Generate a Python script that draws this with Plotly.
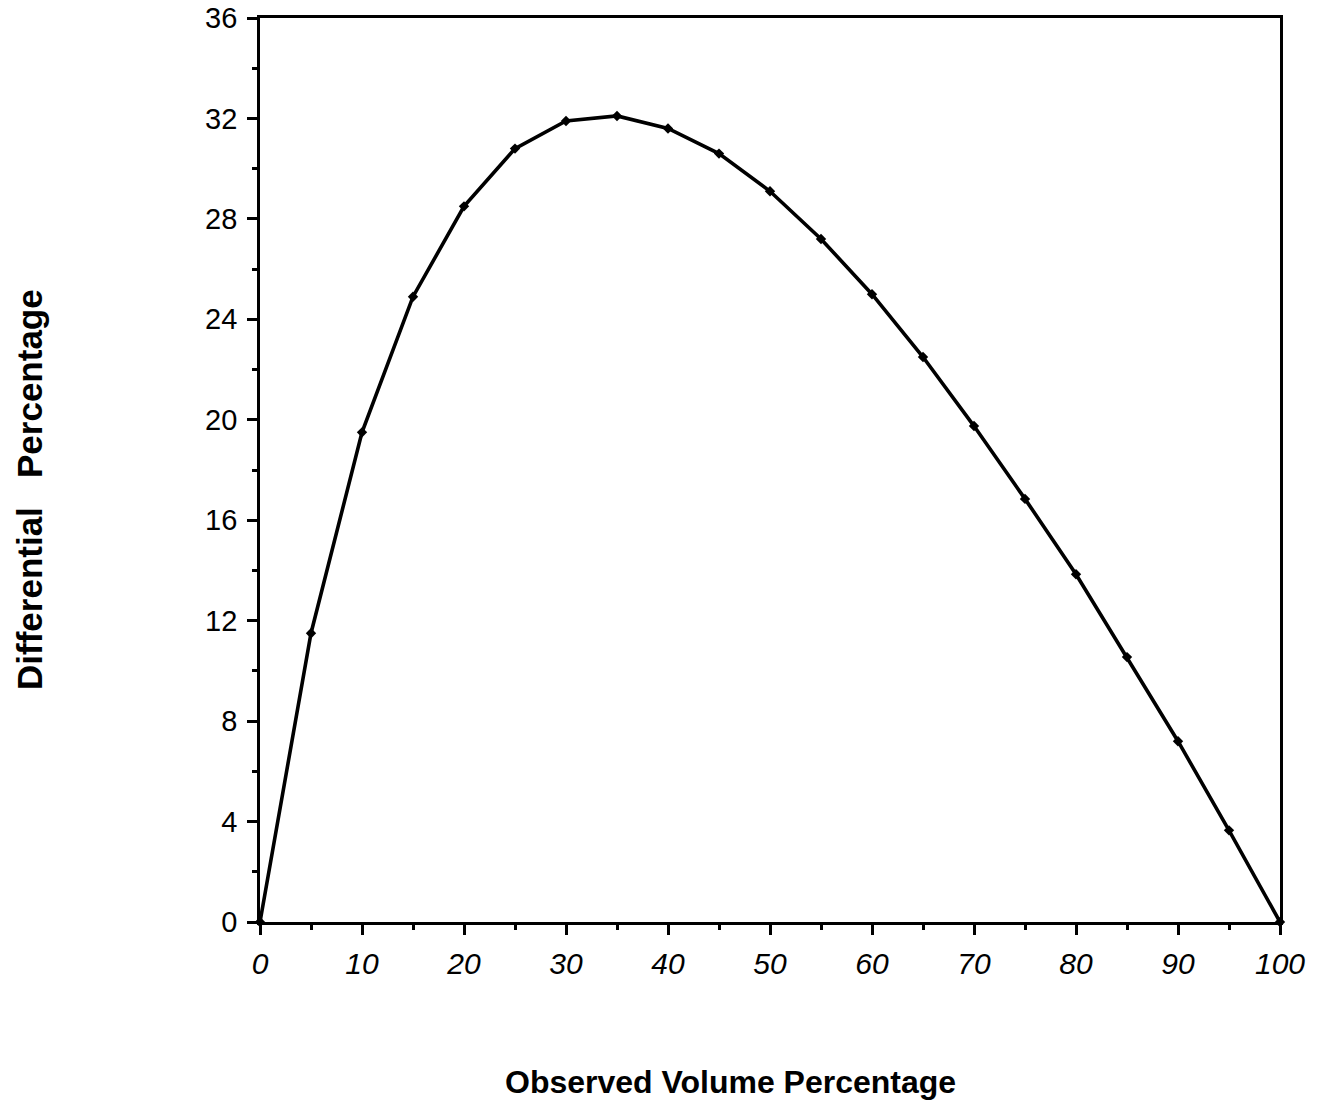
import plotly.graph_objects as go

x_vals = [0, 5, 10, 15, 20, 25, 30, 35, 40, 45, 50, 55, 60, 65, 70, 75, 80, 85, 90, 95, 100]
y_vals = [0, 11.5, 19.5, 24.9, 28.5, 30.8, 31.9, 32.1, 31.6, 30.6, 29.1, 27.2, 25.0, 22.5, 19.75, 16.85, 13.85, 10.55, 7.2, 3.65, 0]

x_ticks = [0, 10, 20, 30, 40, 50, 60, 70, 80, 90, 100]
y_ticks = [0, 4, 8, 12, 16, 20, 24, 28, 32, 36]

x_title = "Observed Volume Percentage"
y_title = "Differential\u00a0\u00a0\u00a0Percentage"

FONT = "Liberation Sans, Arial, Helvetica"

fig = go.Figure()
fig.add_trace(go.Scatter(
    x=x_vals, y=y_vals, mode="lines+markers",
    line=dict(color="black", width=3.6),
    marker=dict(symbol="diamond", size=8, color="black"),
    showlegend=False, cliponaxis=False,
))

axis_common = dict(
    showgrid=False, zeroline=False, showline=True, linecolor="black", linewidth=2.8,
    mirror=True, ticks="outside", ticklen=10, tickwidth=2.8, tickcolor="black",
    automargin=False, ticklabeloverflow="allow",
)

fig.update_xaxes(
    **axis_common, range=[0, 100], tickvals=x_ticks, ticklabelstandoff=3,
    tickfont=dict(family=FONT, size=30, color="black", style="italic"),
    minor=dict(ticks="outside", dtick=5, ticklen=5, tickwidth=2.8, tickcolor="black"),
)
fig.update_yaxes(
    **axis_common, range=[0, 36], tickvals=y_ticks, ticklabelstandoff=4,
    tickfont=dict(family=FONT, size=29, color="black"),
    minor=dict(ticks="outside", dtick=2, ticklen=5, tickwidth=2.8, tickcolor="black"),
)

fig.add_annotation(
    text=x_title, xref="paper", yref="paper", x=0.461, y=-0.1773,
    xanchor="center", yanchor="middle",
    showarrow=False, font=dict(family=FONT, size=32, color="black", weight="bold"),
)
fig.add_annotation(
    text=y_title, xref="paper", yref="paper", x=-0.2255, y=0.479, textangle=-90,
    xanchor="center", yanchor="middle",
    showarrow=False, font=dict(family=FONT, size=35, color="black", weight="bold"),
)

fig.update_layout(
    width=1323, height=1105,
    margin=dict(l=260, r=43, t=18, b=183),
    plot_bgcolor="white", paper_bgcolor="white",
)

fig.write_html("out.html", config={"displayModeBar": False},
               post_script="document.body.style.margin='0';")
